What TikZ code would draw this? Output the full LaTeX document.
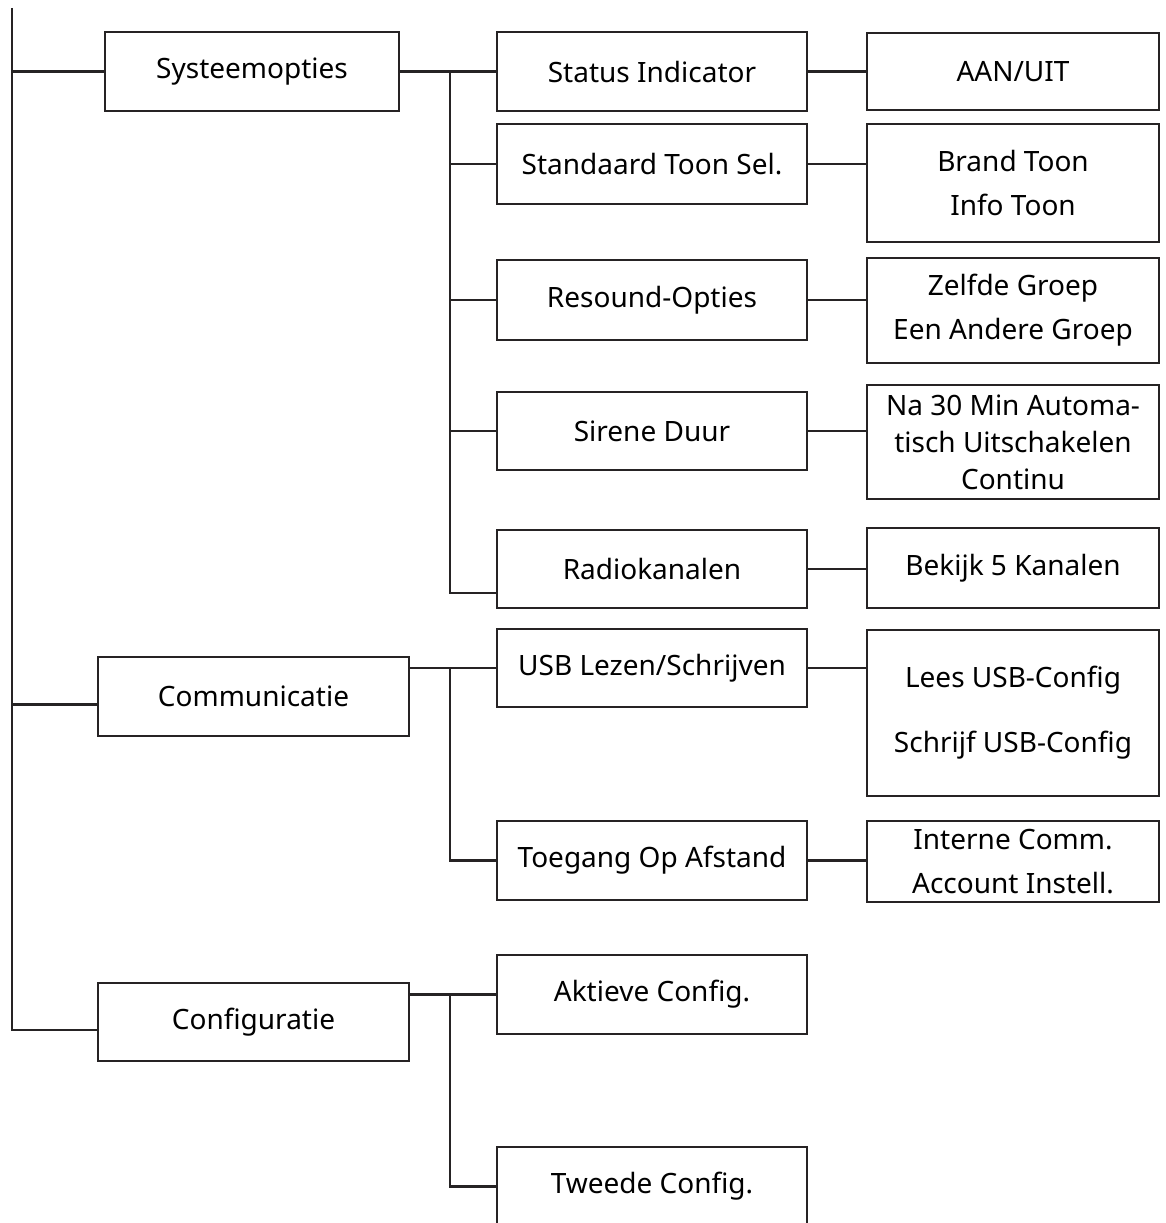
\documentclass[tikz,border=0pt]{standalone}
\usepackage{fontspec}
\setmainfont{Noto Sans}
\usepackage{tikz}
\usetikzlibrary{positioning,calc}
\definecolor{ink}{RGB}{38,35,36}
\tikzset{
  menu/.style={draw=ink, line width=2.8pt, fill=white, align=center,
    minimum width=294pt, minimum height=79pt, inner sep=0pt,
    font=\fontsize{28}{44}\selectfont},
  sub/.style={menu, minimum width=310pt},
  opt/.style={menu, minimum width=292pt},
  link/.style={draw=ink, line width=2.8pt}
}

\begin{document}
\begin{tikzpicture}[x=1pt, y=-1pt]
  \useasboundingbox (0,0) rectangle (1166,1223);
  % hoofdmenu
  \node[menu] (sys) at (252,71.5) {Systeemopties};
  \node[menu, minimum width=311pt] (com) at (253.5,696.5) {Communicatie};
  \node[menu, minimum width=311pt, minimum height=78pt] (cfg) at (253.5,1022) {Configuratie};
  % submenu's
  \node[sub] (sta) at (652,71.5) {Status Indicator};
  \node[sub, minimum height=80pt] (std) at (652,164) {Standaard Toon Sel.};
  \node[sub, minimum height=80pt] (res) at (652,300) {Resound-Opties};
  \node[sub, minimum height=78pt] (sir) at (652,431) {Sirene Duur};
  \node[sub, minimum height=78pt] (rad) at (652,569) {Radiokanalen};
  \node[sub, minimum height=78pt] (usb) at (652,668) {USB Lezen/Schrijven};
  \node[sub] (toe) at (652,860.5) {Toegang Op Afstand};
  \node[sub] (akt) at (652,994.5) {Aktieve Config.};
  \node[sub] (twe) at (652,1186.5) {Tweede Config.};
  % opties
  \node[opt, minimum height=77pt] (aan) at (1013,71.5) {AAN/UIT};
  \node[opt, minimum height=118pt] (toon) at (1013,183) {Brand Toon\\Info Toon};
  \node[opt, minimum height=105pt] (groep) at (1013,310.5) {Zelfde Groep\\Een Andere Groep};
  \node[opt, minimum height=114pt, font=\fontsize{28}{37}\selectfont] (duur) at (1013,442)
    {Na 30 Min Automa-\\tisch Uitschakelen\\Continu};
  \node[opt, minimum height=80pt] (kan) at (1013,568) {Bekijk 5 Kanalen};
  \node[opt, minimum height=166pt] (cnf) at (1013,713) {Lees USB-Config\\[21pt]Schrijf USB-Config};
  \node[opt, minimum height=81pt] (acc) at (1013,861.5) {Interne Comm.\\Account Instell.};
  % boom
  \coordinate (top) at (12,8);
  \coordinate (sysbus) at (450,71.5);
  \coordinate (combus) at (450,668);
  \coordinate (cfgbus) at (450,994.5);
  \draw[link] (top) |- ([yshift=-8pt]cfg.west);
  \draw[link] (sys.west -| top) -- (sys.west);
  \draw[link] ([yshift=-8pt]com.west -| top) -- ([yshift=-8pt]com.west);
  \draw[link] (sys.east) -- (sta.west);
  \draw[link] (sysbus) |- ([yshift=-24pt]rad.west);
  \foreach \n in {std,res,sir}
    \draw[link] (\n.west -| sysbus) -- (\n.west);
  \draw[link] (usb.west -| com.east) -- (usb.west);
  \draw[link] (combus) |- (toe.west);
  \draw[link] (akt.west -| cfg.east) -- (akt.west);
  \draw[link] (cfgbus) |- (twe.west);
  \foreach \a/\b in {sta/aan,std/toon,res/groep,sir/duur,rad/kan,usb/cnf,toe/acc}
    \draw[link] (\a.east) -- (\a.east -| \b.west);
\end{tikzpicture}
\end{document}
